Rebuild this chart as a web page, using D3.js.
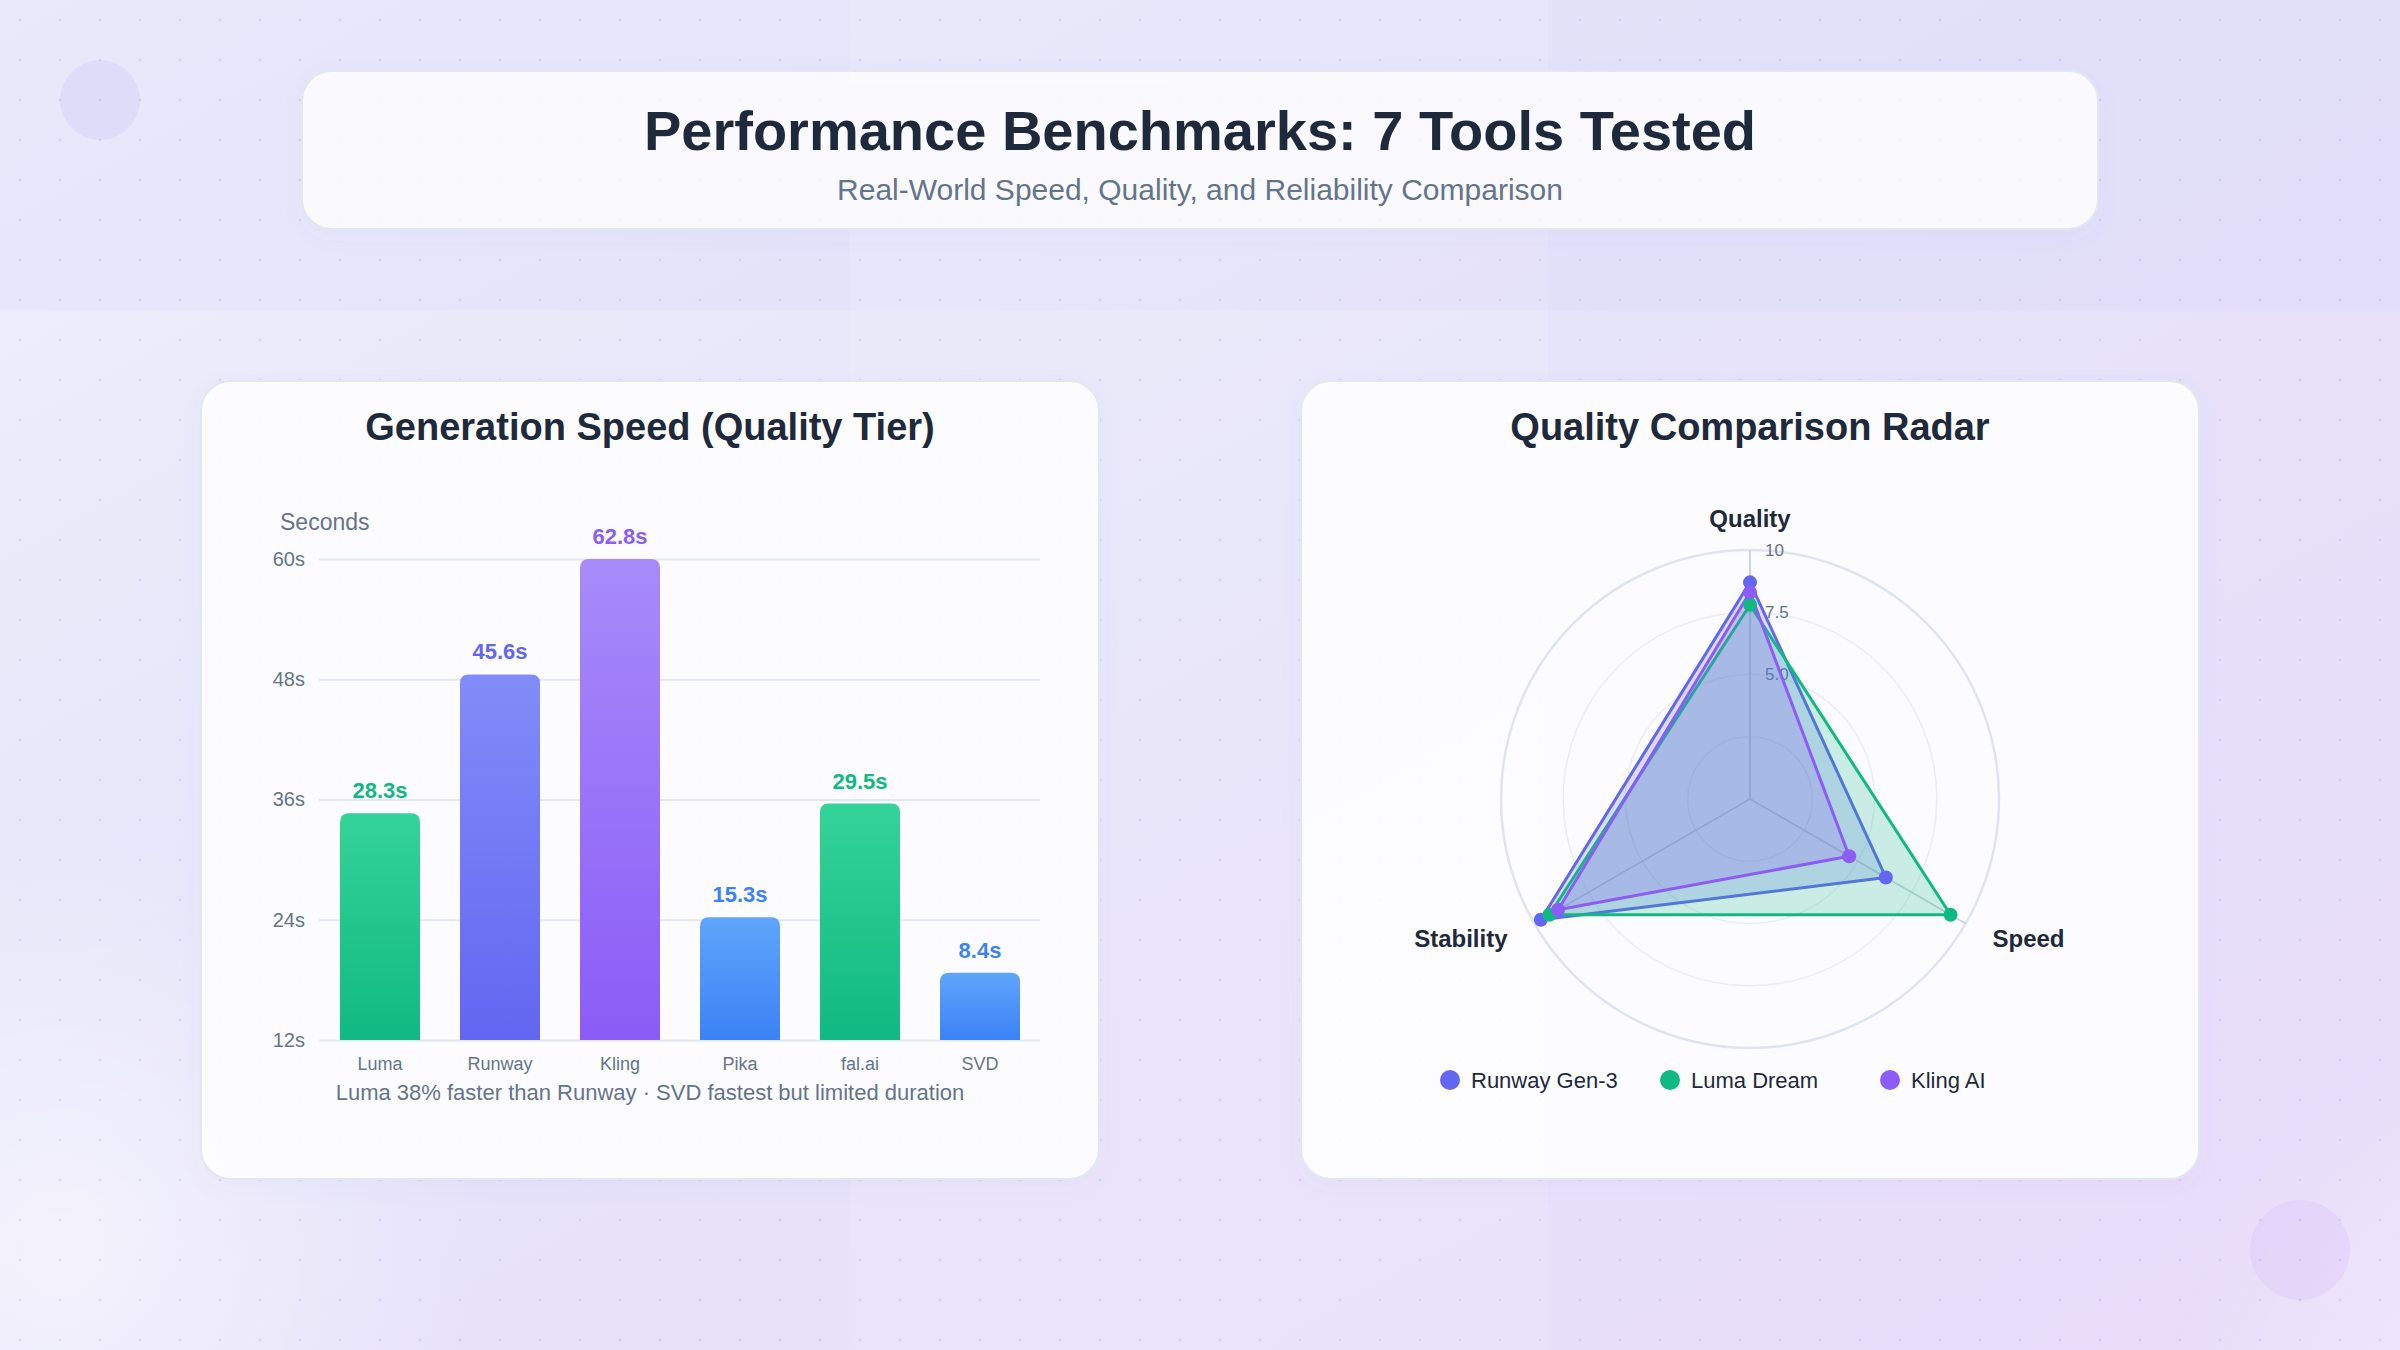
<!DOCTYPE html>
<html lang="en">
<head>
<meta charset="utf-8">
<title>Performance Benchmarks</title>
<script src="https://cdn.jsdelivr.net/npm/d3@7/dist/d3.min.js"></script>
<style>
  body { margin: 0; background: #ebe8fb; }
  svg { display: block; font-family: "Liberation Sans", Arial, sans-serif; }
</style>
</head>
<body>
<script>
// ---- data ----
const tools = ["Luma", "Runway", "Kling", "Pika", "fal.ai", "SVD"];
const genSeconds = [28.3, 45.6, 62.8, 15.3, 29.5, 8.4];
const yTickValues = [0, 15, 30, 45, 60];
const yTickLabels = ["12s", "24s", "36s", "48s", "60s"];

const radarAxes = ["Quality", "Speed", "Stability"];
const radarSeries = ["Runway Gen-3", "Luma Dream", "Kling AI"];
const runwayScores = [8.7, 6.3, 9.7];
const lumaScores = [7.8, 9.3, 9.3];
const klingScores = [8.3, 4.6, 8.9];
const ringValues = [2.5, 5, 7.5, 10];
const ringLabelValues = [5, 7.5, 10];
const ringLabels = ["5.0", "7.5", "10"];

// ---- colours ----
const green = ["#34d399", "#10b981"], indigo = ["#818cf8", "#6366f1"],
      violet = ["#a78bfa", "#8b5cf6"], blue = ["#60a5fa", "#3b82f6"];
const barColor = { "Luma": green, "Runway": indigo, "Kling": violet, "Pika": blue, "fal.ai": green, "SVD": blue };
const seriesColor = ["#6366f1", "#10b981", "#8b5cf6"];

const W = 2400, H = 1350;
const svg = d3.select("body").append("svg").attr("width", W).attr("height", H);
const defs = svg.append("defs");

// background
const bg = defs.append("linearGradient").attr("id", "bg").attr("x1", 0).attr("y1", 0).attr("x2", 1).attr("y2", 1);
bg.append("stop").attr("offset", 0).attr("stop-color", "#eff0fc");
bg.append("stop").attr("offset", 0.45).attr("stop-color", "#e6e4fa");
bg.append("stop").attr("offset", 1).attr("stop-color", "#e9dcfa");
const glow = defs.append("radialGradient").attr("id", "glow");
glow.append("stop").attr("offset", 0).attr("stop-color", "#ffffff").attr("stop-opacity", 0.55);
glow.append("stop").attr("offset", 1).attr("stop-color", "#ffffff").attr("stop-opacity", 0);
const dots = defs.append("pattern").attr("id", "dots").attr("width", 40).attr("height", 40)
  .attr("patternUnits", "userSpaceOnUse");
dots.append("circle").attr("cx", 20).attr("cy", 20).attr("r", 1.6).attr("fill", "rgba(120,110,230,0.16)");

svg.append("rect").attr("width", W).attr("height", H).attr("fill", "url(#bg)");
svg.append("circle").attr("cx", 60).attr("cy", 1250).attr("r", 420).attr("fill", "url(#glow)");
svg.append("circle").attr("cx", 2650).attr("cy", 1500).attr("r", 520).attr("fill", "url(#glow)");
svg.append("rect").attr("width", W).attr("height", 310).attr("fill", "rgba(215,212,248,0.25)");
svg.append("rect").attr("x", 850).attr("width", 698).attr("height", H).attr("fill", "rgba(255,255,255,0.12)");
svg.append("rect").attr("width", W).attr("height", H).attr("fill", "url(#dots)");
svg.append("circle").attr("cx", 100).attr("cy", 100).attr("r", 40).attr("fill", "rgba(99,102,241,0.07)");
svg.append("circle").attr("cx", 2300).attr("cy", 1250).attr("r", 50).attr("fill", "rgba(139,92,246,0.07)");

const shadow = defs.append("filter").attr("id", "shadow").attr("x", "-10%").attr("y", "-10%")
  .attr("width", "120%").attr("height", "130%");
shadow.append("feDropShadow").attr("dx", 0).attr("dy", 6).attr("stdDeviation", 10)
  .attr("flood-color", "#6366f1").attr("flood-opacity", 0.05);

function card(x, y, w, h, fill) {
  svg.append("rect").attr("x", x).attr("y", y).attr("width", w).attr("height", h)
    .attr("rx", 30).attr("fill", fill).attr("stroke", "#e2e8f0").attr("stroke-width", 2)
    .attr("filter", "url(#shadow)");
}

// header
card(302, 71, 1796, 158, "rgba(255,255,255,0.82)");
svg.append("text").attr("x", 1200).attr("y", 150).attr("text-anchor", "middle")
  .attr("font-size", 56).attr("font-weight", 700).attr("fill", "#1e293b")
  .text("Performance Benchmarks: 7 Tools Tested");
svg.append("text").attr("x", 1200).attr("y", 200).attr("text-anchor", "middle")
  .attr("font-size", 30).attr("fill", "#64748b")
  .text("Real-World Speed, Quality, and Reliability Comparison");

// ---- bar chart ----
card(201, 381, 898, 798, "rgba(255,255,255,0.88)");
svg.append("text").attr("x", 650).attr("y", 440).attr("text-anchor", "middle")
  .attr("font-size", 38).attr("font-weight", 700).attr("fill", "#1e293b")
  .text("Generation Speed (Quality Tier)");

const x = d3.scaleBand().domain(tools).range([320, 1040]).paddingInner(1 / 3).paddingOuter(1 / 6);
const y = d3.scaleLinear().domain([0, 60]).range([1040, 559]).clamp(true);

const yAxis = svg.append("g").attr("transform", "translate(319,0)")
  .call(d3.axisLeft(y).tickValues(yTickValues).tickSize(-721).tickFormat((d, i) => yTickLabels[i]));
yAxis.select(".domain").remove();
yAxis.selectAll(".tick line").attr("stroke", "#e2e8f0").attr("stroke-width", 2);
yAxis.selectAll(".tick text").attr("x", -14).attr("font-size", 20).attr("fill", "#64748b")
  .attr("font-family", "Liberation Sans, Arial, sans-serif");

svg.append("text").attr("x", 280).attr("y", 530).attr("font-size", 23).attr("fill", "#64748b").text("Seconds");

tools.forEach((t, i) => {
  const g = defs.append("linearGradient").attr("id", "bar" + i).attr("x1", 0).attr("y1", 0).attr("x2", 0).attr("y2", 1);
  g.append("stop").attr("offset", 0).attr("stop-color", barColor[t][0]);
  g.append("stop").attr("offset", 1).attr("stop-color", barColor[t][1]);
});

function topRounded(x0, y0, w, h, r) {
  return `M${x0},${y0 + h}V${y0 + r}Q${x0},${y0} ${x0 + r},${y0}H${x0 + w - r}Q${x0 + w},${y0} ${x0 + w},${y0 + r}V${y0 + h}Z`;
}

svg.append("g").selectAll("path").data(genSeconds).enter().append("path")
  .attr("d", (d, i) => topRounded(x(tools[i]), y(d), x.bandwidth(), y(0) - y(d), 9))
  .attr("fill", (d, i) => "url(#bar" + i + ")");

svg.append("g").selectAll("text").data(genSeconds).enter().append("text")
  .attr("x", (d, i) => x(tools[i]) + x.bandwidth() / 2)
  .attr("y", d => y(d) - 15)
  .attr("text-anchor", "middle").attr("font-size", 22).attr("font-weight", 700)
  .attr("fill", (d, i) => barColor[tools[i]][1])
  .text(d => d + "s");

svg.append("g").selectAll("text").data(tools).enter().append("text")
  .attr("x", d => x(d) + x.bandwidth() / 2).attr("y", 1070)
  .attr("text-anchor", "middle").attr("font-size", 18).attr("fill", "#64748b")
  .text(d => d);

svg.append("text").attr("x", 650).attr("y", 1100).attr("text-anchor", "middle")
  .attr("font-size", 22).attr("fill", "#64748b")
  .text("Luma 38% faster than Runway \u00b7 SVD fastest but limited duration");

// ---- radar ----
card(1301, 381, 898, 798, "rgba(255,255,255,0.9)");
svg.append("text").attr("x", 1750).attr("y", 440).attr("text-anchor", "middle")
  .attr("font-size", 38).attr("font-weight", 700).attr("fill", "#1e293b")
  .text("Quality Comparison Radar");

const cx = 1750, cy = 799;
const r = d3.scaleLinear().domain([0, 10]).range([0, 249]);
const angle = d3.scalePoint().domain(radarAxes).range([-Math.PI / 2, -Math.PI / 2 + 4 * Math.PI / 3]);
const px = (a, v) => cx + r(v) * Math.cos(angle(a));
const py = (a, v) => cy + r(v) * Math.sin(angle(a));

const radar = svg.append("g");
radar.selectAll("circle.ring").data(ringValues).enter().append("circle")
  .attr("cx", cx).attr("cy", cy).attr("r", d => r(d)).attr("fill", "none")
  .attr("stroke", d => d === 10 ? "#dfe5ef" : "#e8ecf3").attr("stroke-width", d => d === 10 ? 2.5 : 1.5);
radar.selectAll("line").data(radarAxes).enter().append("line")
  .attr("x1", cx).attr("y1", cy).attr("x2", d => px(d, 10)).attr("y2", d => py(d, 10))
  .attr("stroke", "#cbd5e1").attr("stroke-width", 2);
radar.selectAll("text.tick").data(ringLabelValues).enter().append("text")
  .attr("x", cx + 15).attr("y", d => cy - r(d)).attr("dy", "0.35em")
  .attr("font-size", 17).attr("fill", "#64748b").text((d, i) => ringLabels[i]);

const allScores = [runwayScores, lumaScores, klingScores];
const line = d3.line().x((d, i) => px(radarAxes[i], d)).y((d, i) => py(radarAxes[i], d)).curve(d3.curveLinearClosed);
allScores.forEach((scores, s) => {
  const g = radar.append("g");
  g.append("path").attr("d", line(scores)).attr("fill", seriesColor[s]).attr("fill-opacity", 0.21)
    .attr("stroke", seriesColor[s]).attr("stroke-width", 3).attr("stroke-linejoin", "round");
});
allScores.forEach((scores, s) => {
  radar.append("g").selectAll("circle").data(scores).enter().append("circle")
    .attr("cx", (d, i) => px(radarAxes[i], d)).attr("cy", (d, i) => py(radarAxes[i], d))
    .attr("r", 7).attr("fill", seriesColor[s]);
});

radar.selectAll("text.axis").data(radarAxes).enter().append("text")
  .attr("x", d => cx + (r(10) + 31) * Math.cos(angle(d)))
  .attr("y", d => cy + (r(10) + 31) * Math.sin(angle(d)))
  .attr("dy", "0.35em")
  .attr("text-anchor", d => Math.abs(Math.cos(angle(d))) < 0.1 ? "middle" : (Math.cos(angle(d)) > 0 ? "start" : "end"))
  .attr("font-size", 24).attr("font-weight", 700).attr("fill", "#1e293b")
  .text(d => d);

const legend = svg.append("g").selectAll("g").data(radarSeries).enter().append("g")
  .attr("transform", (d, i) => `translate(${1450 + i * 220},1080)`);
legend.append("circle").attr("r", 10).attr("fill", (d, i) => seriesColor[i]);
legend.append("text").attr("x", 21).attr("dy", "0.35em").attr("font-size", 22).attr("fill", "#1e293b").text(d => d);
</script>
</body>
</html>
